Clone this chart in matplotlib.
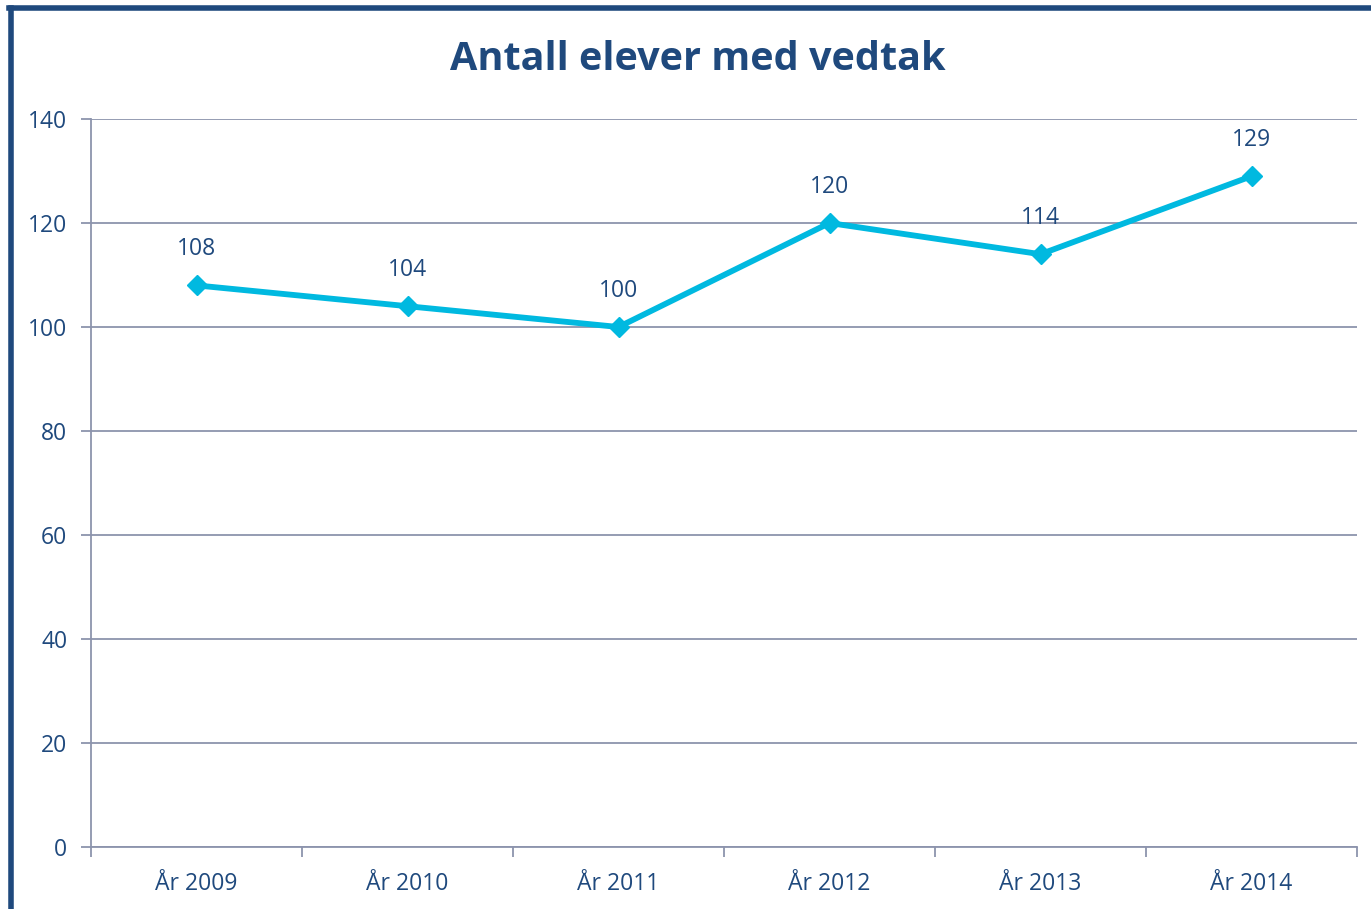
import matplotlib
matplotlib.use("Agg")
import matplotlib.pyplot as plt
from matplotlib.ticker import FixedLocator, NullFormatter
from matplotlib.lines import Line2D

# Dati
anni = ["År 2009", "År 2010", "År 2011", "År 2012", "År 2013", "År 2014"]
elever = [108, 104, 100, 120, 114, 129]
tick_y = [0, 20, 40, 60, 80, 100, 120, 140]

blu_testo = "#1F497D"
ciano = "#00B9E0"
griglia = "#8C94AD"

plt.rcParams["font.family"] = ["Open Sans", "DejaVu Sans"]

W, H = 1371, 909
fig = plt.figure(figsize=(W / 100, H / 100), dpi=100)
ax = fig.add_axes([91 / W, 1 - 847 / H, (1357 - 91) / W, (847 - 119) / H])

x = list(range(len(anni)))
ax.plot(x, elever, color=ciano, linewidth=4.2, marker="D", markersize=10,
        markerfacecolor=ciano, markeredgecolor=ciano, zorder=3)
for xi, v in zip(x, elever):
    ax.annotate(str(v), (xi, v), xytext=(0, 26), textcoords="offset points",
                ha="center", va="center", fontsize=16.5, color=blu_testo)

ax.set_xlim(-0.5, len(anni) - 0.5)
ax.set_ylim(0, 140)
ax.set_yticks(tick_y)
ax.yaxis.grid(True, color=griglia, linewidth=1.3)
ax.set_axisbelow(True)

# tacche tra le categorie, etichette al centro
ax.xaxis.set_major_locator(FixedLocator([i - 0.5 for i in range(len(anni) + 1)]))
ax.xaxis.set_major_formatter(NullFormatter())
ax.xaxis.set_minor_locator(FixedLocator(x))
ax.set_xticklabels(anni, minor=True)
ax.tick_params(axis="x", which="major", direction="out", length=7, width=1.3, color=griglia)
ax.tick_params(axis="x", which="minor", length=0, pad=18, labelsize=16.5, labelcolor=blu_testo)
ax.tick_params(axis="y", direction="out", length=7, width=1.3, color=griglia,
               pad=10, labelsize=16.5, labelcolor=blu_testo)

for s in ["top", "right"]:
    ax.spines[s].set_visible(False)
for s in ["left", "bottom"]:
    ax.spines[s].set_color(griglia)
    ax.spines[s].set_linewidth(1.3)

fig.text(698 / W, 1 - 60 / H, "Antall elever med vedtak", ha="center", va="center",
         fontsize=28.5, fontweight="bold", color=blu_testo)

# cornice (solo lati sinistro e superiore visibili)
fig.add_artist(Line2D([10.5 / W, 10.5 / W], [0, 1 - 7.5 / H], transform=fig.transFigure,
                      color=blu_testo, linewidth=4))
fig.add_artist(Line2D([8.5 / W, 1], [1 - 7.5 / H, 1 - 7.5 / H], transform=fig.transFigure,
                      color=blu_testo, linewidth=4))

fig.savefig("out.png", dpi=100)
